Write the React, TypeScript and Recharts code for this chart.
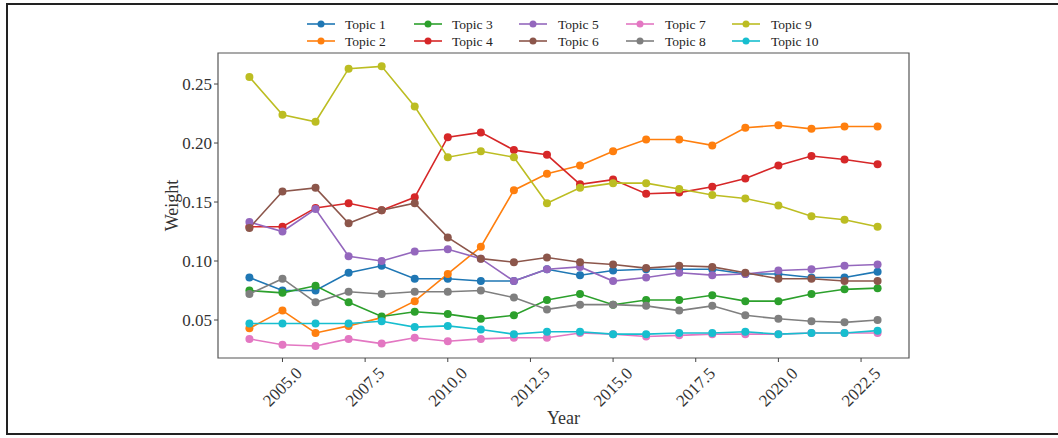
import React from 'react';
import { LineChart, Line, XAxis, YAxis, ReferenceArea } from 'recharts';

const years = [2004, 2005, 2006, 2007, 2008, 2009, 2010, 2011, 2012, 2013, 2014, 2015, 2016, 2017, 2018, 2019, 2020, 2021, 2022, 2023];
const topic1 = [0.086, 0.075, 0.075, 0.090, 0.096, 0.085, 0.085, 0.083, 0.083, 0.093, 0.088, 0.092, 0.093, 0.093, 0.093, 0.089, 0.089, 0.086, 0.086, 0.091];
const topic2 = [0.043, 0.058, 0.039, 0.045, 0.052, 0.066, 0.089, 0.112, 0.160, 0.174, 0.181, 0.193, 0.203, 0.203, 0.198, 0.213, 0.215, 0.212, 0.214, 0.214];
const topic3 = [0.075, 0.073, 0.079, 0.065, 0.053, 0.057, 0.055, 0.051, 0.054, 0.067, 0.072, 0.063, 0.067, 0.067, 0.071, 0.066, 0.066, 0.072, 0.076, 0.077];
const topic4 = [0.129, 0.129, 0.145, 0.149, 0.143, 0.154, 0.205, 0.209, 0.194, 0.190, 0.165, 0.169, 0.157, 0.158, 0.163, 0.170, 0.181, 0.189, 0.186, 0.182];
const topic5 = [0.133, 0.125, 0.144, 0.104, 0.100, 0.108, 0.110, 0.102, 0.083, 0.093, 0.095, 0.083, 0.086, 0.090, 0.088, 0.089, 0.092, 0.093, 0.096, 0.097];
const topic6 = [0.128, 0.159, 0.162, 0.132, 0.143, 0.149, 0.120, 0.102, 0.099, 0.103, 0.099, 0.097, 0.094, 0.096, 0.095, 0.090, 0.085, 0.085, 0.083, 0.083];
const topic7 = [0.034, 0.029, 0.028, 0.034, 0.030, 0.035, 0.032, 0.034, 0.035, 0.035, 0.039, 0.038, 0.036, 0.037, 0.038, 0.038, 0.038, 0.039, 0.039, 0.039];
const topic8 = [0.072, 0.085, 0.065, 0.074, 0.072, 0.074, 0.074, 0.075, 0.069, 0.059, 0.063, 0.063, 0.062, 0.058, 0.062, 0.054, 0.051, 0.049, 0.048, 0.050];
const topic9 = [0.256, 0.224, 0.218, 0.263, 0.265, 0.231, 0.188, 0.193, 0.188, 0.149, 0.162, 0.166, 0.166, 0.161, 0.156, 0.153, 0.147, 0.138, 0.135, 0.129];
const topic10 = [0.047, 0.047, 0.047, 0.047, 0.049, 0.044, 0.045, 0.042, 0.038, 0.040, 0.040, 0.038, 0.038, 0.039, 0.039, 0.040, 0.038, 0.039, 0.039, 0.041];

const seriesNames = ['Topic 1', 'Topic 2', 'Topic 3', 'Topic 4', 'Topic 5', 'Topic 6', 'Topic 7', 'Topic 8', 'Topic 9', 'Topic 10'];
const seriesValues = [topic1, topic2, topic3, topic4, topic5, topic6, topic7, topic8, topic9, topic10];
const colors = ['#1f77b4', '#ff7f0e', '#2ca02c', '#d62728', '#9467bd', '#8c564b', '#e377c2', '#7f7f7f', '#bcbd22', '#17becf'];

const xTicks = [2005, 2007.5, 2010, 2012.5, 2015, 2017.5, 2020, 2022.5];
const yTicks = [0.05, 0.1, 0.15, 0.2, 0.25];
const xDomain = [2003.05, 2023.95];
const yDomain = [0.0178, 0.2763];

const data = years.map((yr, i) => {
  const row: Record<string, number> = { year: yr };
  seriesNames.forEach((n, k) => { row[n] = seriesValues[k][i]; });
  return row;
});

const FONT = '"Liberation Serif", "Times New Roman", serif';

const XTick = (props: any) => {
  const { x, y, payload } = props;
  const cx = x;
  const cy = y + 22;
  return (
    <text x={cx} y={cy} textAnchor="middle" dominantBaseline="central" fontSize={17} fontFamily={FONT} fill="#333"
      transform={`rotate(-45, ${cx}, ${cy})`}>
      {Number(payload.value).toFixed(1)}
    </text>
  );
};

const YTick = (props: any) => {
  const { x, y, payload } = props;
  return (
    <text x={x} y={y} textAnchor="end" dominantBaseline="central" fontSize={17} fontFamily={FONT} fill="#333">
      {Number(payload.value).toFixed(2)}
    </text>
  );
};

const legendCols = [
  { line: 307, text: 345 },
  { line: 414, text: 452 },
  { line: 519, text: 558 },
  { line: 626, text: 665 },
  { line: 732, text: 771 },
];
const legendRows = [24, 41];

export default function App() {
  return (
    <div style={{ position: 'absolute', left: 0, top: 0, width: 1058, height: 438, background: '#fff' }}>
      <div style={{ position: 'absolute', left: 6, top: 3, width: 1052, height: 432, borderTop: '2px solid #222', borderLeft: '2px solid #222', borderBottom: '2px solid #222', boxSizing: 'border-box' }} />
      <LineChart width={1058} height={438} data={data} margin={{ top: 53, right: 149, bottom: 0, left: 0 }}
        style={{ position: 'absolute', left: 0, top: 0 }}>
        <XAxis dataKey="year" type="number" domain={xDomain} ticks={xTicks} allowDataOverflow
          height={80} axisLine={false} tickLine={{ stroke: '#444' }} tickSize={4} tickMargin={3}
          tick={<XTick />} interval={0}
          label={{ content: (p: any) => {
            const vb = p.viewBox;
            return <text x={vb.x + vb.width / 2} y={418} textAnchor="middle" dominantBaseline="central" fontSize={18} fontFamily={FONT} fill="#333">Year</text>;
          } }} />
        <YAxis type="number" domain={yDomain} ticks={yTicks} allowDataOverflow width={218}
          axisLine={false} tickLine={{ stroke: '#444' }} tickSize={4} tickMargin={2} tick={<YTick />} interval={0}
          label={{ content: (p: any) => {
            const vb = p.viewBox;
            const cx = 172;
            const cy = vb.y + vb.height / 2;
            return <text x={cx} y={cy} textAnchor="middle" dominantBaseline="central" fontSize={18} fontFamily={FONT} fill="#333" transform={`rotate(-90, ${cx}, ${cy})`}>Weight</text>;
          } }} />
        <ReferenceArea x1={xDomain[0]} x2={xDomain[1]} y1={yDomain[0]} y2={yDomain[1]} fill="none" stroke="#555" strokeWidth={1.2} ifOverflow="extendDomain" />
        {seriesNames.map((n, k) => (
          <Line key={n} dataKey={n} type="linear" stroke={colors[k]} strokeWidth={1.6}
            dot={{ r: 4, fill: colors[k], stroke: colors[k], strokeWidth: 0 }} activeDot={false}
            isAnimationActive={false} />
        ))}
      </LineChart>
      <svg width={1058} height={60} style={{ position: 'absolute', left: 0, top: 0, pointerEvents: 'none' }}>
        {seriesNames.map((n, k) => {
          const col = legendCols[Math.floor(k / 2)];
          const ry = legendRows[k % 2];
          return (
            <g key={n}>
              <line x1={col.line} x2={col.line + 28} y1={ry} y2={ry} stroke={colors[k]} strokeWidth={1.6} />
              <circle cx={col.line + 14} cy={ry} r={3.5} fill={colors[k]} />
              <text x={col.text} y={ry} dominantBaseline="central" fontSize={13.5} fontFamily={FONT} fill="#222">{n}</text>
            </g>
          );
        })}
      </svg>
    </div>
  );
}
